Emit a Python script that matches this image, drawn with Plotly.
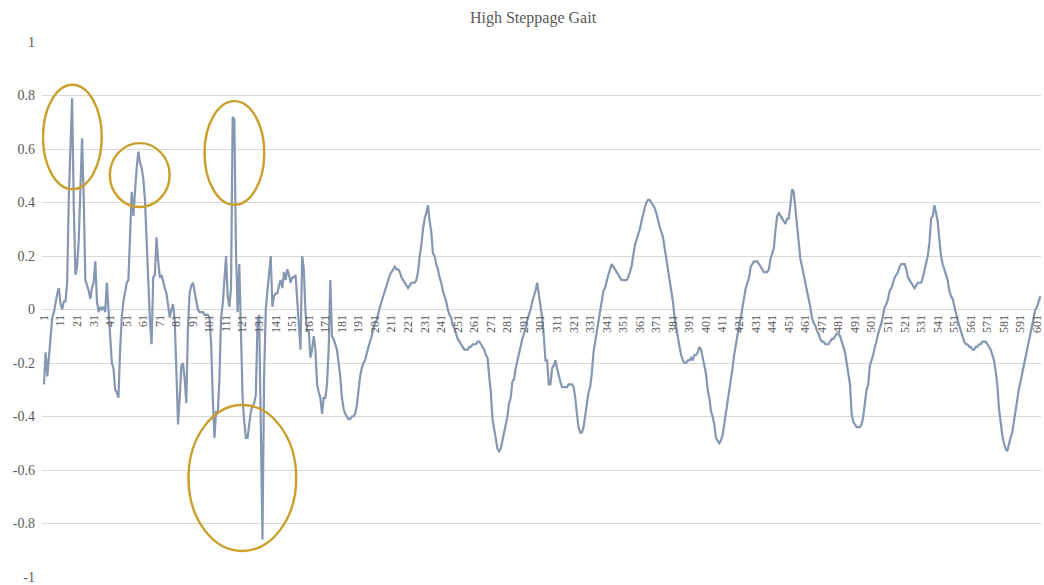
import plotly.graph_objects as go

# Sample index (1..603) and the recorded signal value at each sample
sample_index = list(range(1, 604))
signal = [
    -0.28, -0.16, -0.25, -0.17, -0.08, -0.03, -0.01, 0.03, 0.06, 0.08,
    0.02, 0.00, 0.03, 0.03, 0.10, 0.42, 0.61, 0.79, 0.38, 0.13,
    0.16, 0.26, 0.45, 0.64, 0.42, 0.11, 0.09, 0.07, 0.04, 0.08,
    0.10, 0.18, 0.03, -0.01, 0.01, 0.00, 0.01, -0.01, 0.10, -0.01,
    -0.08, -0.20, -0.22, -0.30, -0.31, -0.33, -0.15, -0.03, 0.03, 0.06,
    0.10, 0.11, 0.26, 0.44, 0.35, 0.46, 0.53, 0.59, 0.55, 0.53,
    0.49, 0.41, 0.25, 0.06, -0.04, -0.13, 0.12, 0.13, 0.27, 0.18,
    0.12, 0.13, 0.10, 0.08, 0.06, 0.02, -0.03, 0.00, 0.02, -0.04,
    -0.23, -0.43, -0.33, -0.21, -0.20, -0.26, -0.35, -0.06, 0.06, 0.09,
    0.10, 0.07, 0.03, 0.00, -0.01, -0.01, -0.01, -0.02, -0.02, -0.02,
    -0.03, -0.13, -0.33, -0.48, -0.38, -0.39, -0.26, -0.03, 0.02, 0.10,
    0.20, 0.05, 0.01, 0.08, 0.72, 0.71, 0.22, -0.01, 0.17, -0.08,
    -0.33, -0.42, -0.48, -0.48, -0.42, -0.38, -0.36, -0.35, -0.32, -0.05,
    -0.02, -0.45, -0.86, -0.25, 0.00, 0.07, 0.13, 0.20, 0.01, 0.05,
    0.06, 0.06, 0.09, 0.11, 0.08, 0.14, 0.11, 0.15, 0.13, 0.10,
    0.12, 0.12, 0.13, 0.04, -0.05, -0.15, 0.20, 0.15, -0.01, -0.08,
    -0.08, -0.18, -0.15, -0.10, -0.15, -0.28, -0.31, -0.33, -0.39, -0.33,
    -0.33, -0.28, -0.15, 0.11, -0.10, -0.11, -0.13, -0.15, -0.20, -0.25,
    -0.33, -0.37, -0.39, -0.40, -0.41, -0.41, -0.40, -0.40, -0.39, -0.36,
    -0.30, -0.25, -0.22, -0.20, -0.19, -0.16, -0.14, -0.12, -0.10, -0.07,
    -0.05, -0.04, -0.01, 0.01, 0.03, 0.05, 0.07, 0.09, 0.11, 0.13,
    0.14, 0.15, 0.16, 0.15, 0.15, 0.14, 0.12, 0.11, 0.10, 0.09,
    0.08, 0.09, 0.10, 0.10, 0.10, 0.11, 0.14, 0.20, 0.24, 0.30,
    0.34, 0.36, 0.39, 0.33, 0.29, 0.21, 0.20, 0.17, 0.15, 0.12,
    0.10, 0.07, 0.05, 0.03, 0.00, -0.02, -0.03, -0.06, -0.07, -0.09,
    -0.11, -0.12, -0.13, -0.14, -0.15, -0.15, -0.15, -0.14, -0.14, -0.13,
    -0.13, -0.13, -0.12, -0.12, -0.13, -0.14, -0.15, -0.17, -0.18, -0.25,
    -0.31, -0.41, -0.45, -0.49, -0.52, -0.53, -0.52, -0.49, -0.46, -0.44,
    -0.40, -0.35, -0.33, -0.27, -0.26, -0.22, -0.19, -0.16, -0.14, -0.11,
    -0.09, -0.07, -0.04, -0.02, 0.00, 0.03, 0.05, 0.07, 0.10, 0.06,
    0.02, -0.03, -0.10, -0.19, -0.19, -0.28, -0.28, -0.22, -0.21, -0.19,
    -0.22, -0.25, -0.27, -0.29, -0.29, -0.29, -0.29, -0.28, -0.28, -0.28,
    -0.29, -0.33, -0.39, -0.44, -0.46, -0.46, -0.44, -0.40, -0.36, -0.31,
    -0.29, -0.24, -0.16, -0.12, -0.08, -0.04, 0.00, 0.04, 0.07, 0.08,
    0.11, 0.13, 0.15, 0.17, 0.16, 0.15, 0.14, 0.13, 0.12, 0.11,
    0.11, 0.11, 0.11, 0.12, 0.14, 0.16, 0.20, 0.24, 0.26, 0.28,
    0.30, 0.33, 0.36, 0.38, 0.40, 0.41, 0.41, 0.40, 0.39, 0.38,
    0.36, 0.33, 0.31, 0.29, 0.27, 0.23, 0.19, 0.15, 0.11, 0.07,
    0.03, -0.03, -0.07, -0.10, -0.14, -0.17, -0.19, -0.20, -0.20, -0.19,
    -0.19, -0.18, -0.19, -0.17, -0.17, -0.16, -0.14, -0.15, -0.18, -0.21,
    -0.24, -0.30, -0.33, -0.38, -0.40, -0.43, -0.48, -0.49, -0.50, -0.49,
    -0.47, -0.43, -0.39, -0.35, -0.31, -0.27, -0.22, -0.17, -0.13, -0.10,
    -0.06, -0.03, 0.01, 0.04, 0.08, 0.10, 0.12, 0.16, 0.17, 0.18,
    0.18, 0.18, 0.17, 0.16, 0.15, 0.14, 0.14, 0.14, 0.15, 0.19,
    0.21, 0.23, 0.30, 0.35, 0.36, 0.35, 0.34, 0.33, 0.32, 0.34,
    0.34, 0.39, 0.45, 0.44, 0.37, 0.30, 0.24, 0.19, 0.16, 0.13,
    0.10, 0.07, 0.05, 0.01, -0.03, -0.05, -0.06, -0.08, -0.09, -0.11,
    -0.12, -0.12, -0.13, -0.13, -0.13, -0.12, -0.11, -0.11, -0.10, -0.09,
    -0.09, -0.10, -0.12, -0.14, -0.16, -0.20, -0.25, -0.28, -0.39, -0.42,
    -0.43, -0.44, -0.44, -0.44, -0.43, -0.40, -0.35, -0.30, -0.28, -0.21,
    -0.19, -0.17, -0.14, -0.12, -0.09, -0.07, -0.05, -0.02, 0.01, 0.02,
    0.04, 0.07, 0.08, 0.10, 0.12, 0.13, 0.14, 0.16, 0.17, 0.17,
    0.17, 0.15, 0.12, 0.11, 0.10, 0.09, 0.08, 0.09, 0.10, 0.10,
    0.10, 0.12, 0.15, 0.18, 0.20, 0.25, 0.34, 0.35, 0.39, 0.36,
    0.33, 0.26, 0.20, 0.17, 0.15, 0.13, 0.11, 0.07, 0.05, 0.04,
    0.01, -0.01, -0.04, -0.06, -0.08, -0.10, -0.12, -0.13, -0.13, -0.14,
    -0.14, -0.15, -0.15, -0.14, -0.14, -0.13, -0.13, -0.12, -0.12, -0.12,
    -0.13, -0.14, -0.15, -0.17, -0.19, -0.23, -0.28, -0.37, -0.43, -0.47,
    -0.50, -0.52, -0.53, -0.50, -0.48, -0.46, -0.42, -0.37, -0.34, -0.30,
    -0.27, -0.24, -0.20, -0.17, -0.14, -0.11, -0.08, -0.05, -0.03, 0.00,
    0.01, 0.03, 0.05,
]

# Axis ticks
y_ticks = [1, 0.8, 0.6, 0.4, 0.2, 0, -0.2, -0.4, -0.6, -0.8, -1]
y_tick_labels = ["1", "0.8", "0.6", "0.4", "0.2", "0", "-0.2", "-0.4", "-0.6", "-0.8", "-1"]
x_ticks = list(range(1, 602, 10))

# Highlighted regions: (x0, x1, y0, y1) in data units
highlights = [
    (0.4, 35.9, 0.45, 0.84),
    (40.8, 76.9, 0.383, 0.622),
    (98.0, 134.1, 0.391, 0.779),
    (88.3, 153.4, -0.903, -0.357),
]

SERIF = "Liberation Serif"
TEXT_GRAY = "#595959"

fig = go.Figure()
fig.add_trace(go.Scatter(
    x=sample_index, y=signal, mode="lines",
    line=dict(color="#8597b1", width=2.2),
    showlegend=False, hoverinfo="x+y",
))

for x0, x1, y0, y1 in highlights:
    fig.add_shape(type="circle", xref="x", yref="y",
                  x0=x0, x1=x1, y0=y0, y1=y1,
                  line=dict(color="#c9a02c", width=2.4),
                  fillcolor="rgba(0,0,0,0)")

fig.update_layout(
    width=1044, height=585,
    margin=dict(l=42, r=0, t=42, b=8),
    paper_bgcolor="white", plot_bgcolor="white",
    font=dict(family=SERIF, color=TEXT_GRAY),
    title=dict(text="High Steppage Gait", x=533 / 1044, xanchor="center",
               y=1 - 17 / 585, yanchor="middle",
               font=dict(family=SERIF, size=16, color=TEXT_GRAY)),
    xaxis=dict(
        range=[-0.2, 603.4], anchor="free", position=0.5,
        tickmode="array", tickvals=x_ticks, tickangle=-90,
        ticks="", ticklabelstandoff=2, ticklabeloverflow="allow",
        showgrid=False, zeroline=False, showline=False,
        tickfont=dict(family=SERIF, size=12, color=TEXT_GRAY),
    ),
    yaxis=dict(
        range=[-1, 1], tickmode="array", tickvals=y_ticks, ticktext=y_tick_labels,
        showgrid=True, gridcolor="#d9d9d9", gridwidth=1,
        zeroline=False, showline=False, ticks="", ticklabelstandoff=6,
        tickfont=dict(family=SERIF, size=14, color=TEXT_GRAY),
    ),
)

fig.write_html("out.html")
